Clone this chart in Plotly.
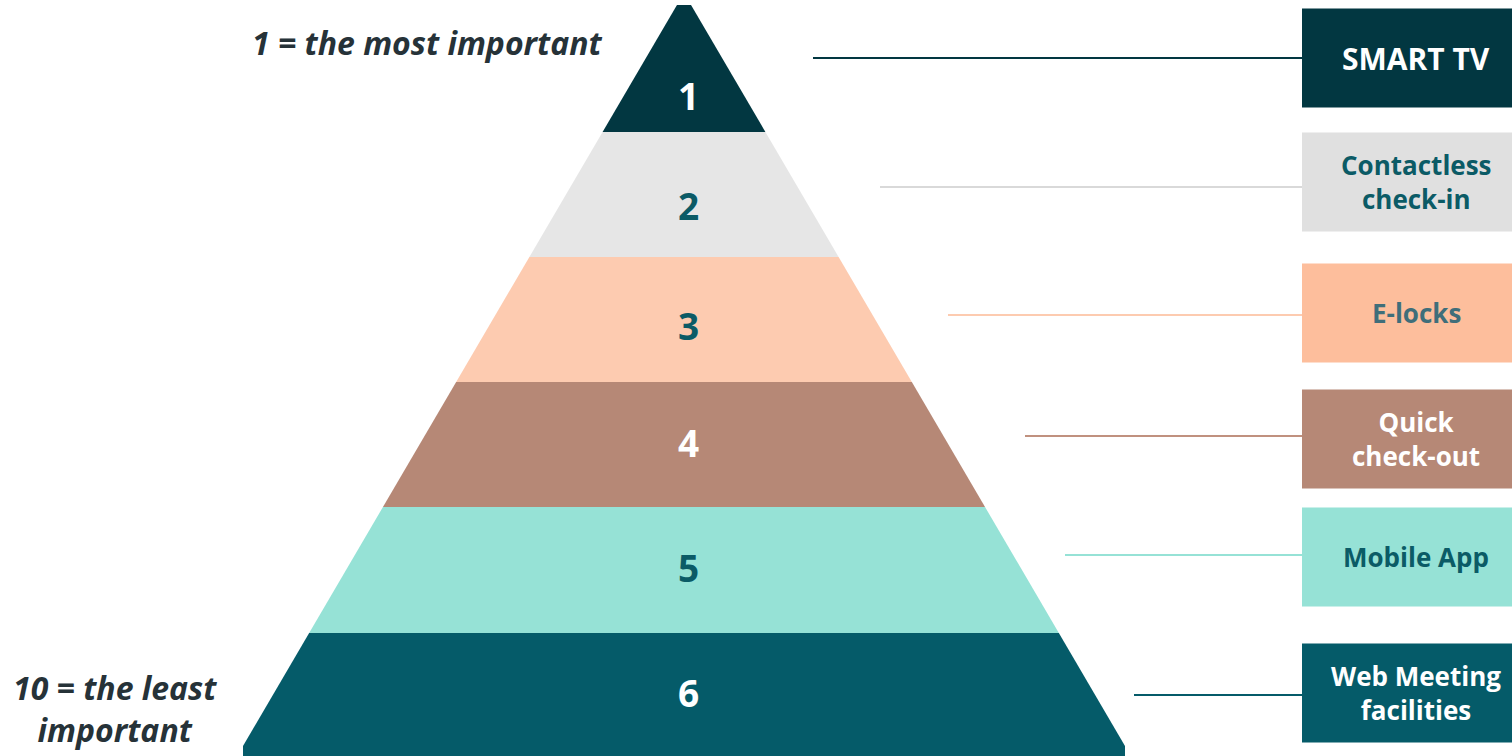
import plotly.graph_objects as go

# Ranking data (1 = most important)
ranks = [1, 2, 3, 4, 5, 6]
features = ["SMART TV", "Contactless<br>check-in", "E-locks", "Quick<br>check-out",
            "Mobile App", "Web Meeting<br>facilities"]

# Styling per level
band_colors = ["#023741", "#e6e6e6", "#fdcbb0", "#b68876", "#96e2d6", "#055b69"]
box_colors = ["#023741", "#e0e0e0", "#fdbe9c", "#b68876", "#96e2d6", "#055b69"]
line_colors = ["#023741", "#d9d9d9", "#fdcbb0", "#c0917f", "#96e2d6", "#055b69"]
number_colors = ["#ffffff", "#0b5b66", "#0b5b66", "#ffffff", "#0b5b66", "#ffffff"]
label_colors = ["#ffffff", "#0b5b66", "#3f6e7a", "#ffffff", "#0b5b66", "#ffffff"]
label_sizes = [30, 26, 26, 26, 26, 26]

# Geometry (pixel space of the canvas)
W, H = 1512, 756
cx = 684
band_edges = [5, 132, 257, 382, 507, 633, 756]
slope = 0.5857
apex_y = -7
max_half = 441
number_y = [95, 205, 325, 442, 567, 692]
row_y = [58, 182, 313, 439, 557, 693]
line_y = [58, 187, 315, 436, 555, 695]
line_x0 = [813, 880, 948, 1025, 1065, 1134]
box_x0, box_x1, box_half = 1302, 1512, 49.5
font = "Open Sans"


def half_width(y):
    return min(slope * (y - apex_y), max_half)


fig = go.Figure()

for i, r in enumerate(ranks):
    y0, y1 = band_edges[i], band_edges[i + 1]
    # trapezoid outline; add corner where sides turn vertical near the bottom
    ys_right = [y0]
    knee = max_half / slope + apex_y
    if y0 < knee < y1:
        ys_right.append(knee)
    ys_right.append(y1)
    xs = [cx + half_width(y) for y in ys_right] + [cx - half_width(y) for y in reversed(ys_right)]
    ys = ys_right + list(reversed(ys_right))
    xs.append(xs[0])
    ys.append(ys[0])
    fig.add_trace(go.Scatter(x=xs, y=ys, fill="toself", fillcolor=band_colors[i],
                             mode="lines", line=dict(width=0, color=band_colors[i]),
                             hoverinfo="skip", showlegend=False))
    fig.add_annotation(x=688, y=number_y[i], text=f"<b>{r}</b>", showarrow=False,
                       font=dict(family=font, size=37, color=number_colors[i]))

    # connector line
    fig.add_trace(go.Scatter(x=[line_x0[i], box_x0], y=[line_y[i], line_y[i]], mode="lines",
                             line=dict(width=2, color=line_colors[i]),
                             hoverinfo="skip", showlegend=False))
    # label box
    fig.add_shape(type="rect", x0=box_x0, x1=box_x1,
                  y0=row_y[i] - box_half, y1=row_y[i] + box_half,
                  fillcolor=box_colors[i], line=dict(width=0), layer="below")
    fig.add_annotation(x=(box_x0 + box_x1) / 2 + 9, y=row_y[i], text=f"<b>{features[i]}</b>",
                       showarrow=False,
                       font=dict(family=font, size=label_sizes[i], color=label_colors[i]))

fig.add_annotation(x=605, y=42, xanchor="right", text="<b><i>1 = the most important</i></b>",
                   showarrow=False, font=dict(family=font, size=32, color="#263238"))
fig.add_annotation(x=115, y=708, text="<b><i>10 = the least<br>important</i></b>",
                   showarrow=False, font=dict(family=font, size=32, color="#263238"))

fig.update_layout(width=W, height=H, margin=dict(l=0, r=0, t=0, b=0),
                  paper_bgcolor="white", plot_bgcolor="white",
                  xaxis=dict(range=[0, W], visible=False, fixedrange=True),
                  yaxis=dict(range=[H, 0], visible=False, fixedrange=True))

fig.write_html("out.html")
